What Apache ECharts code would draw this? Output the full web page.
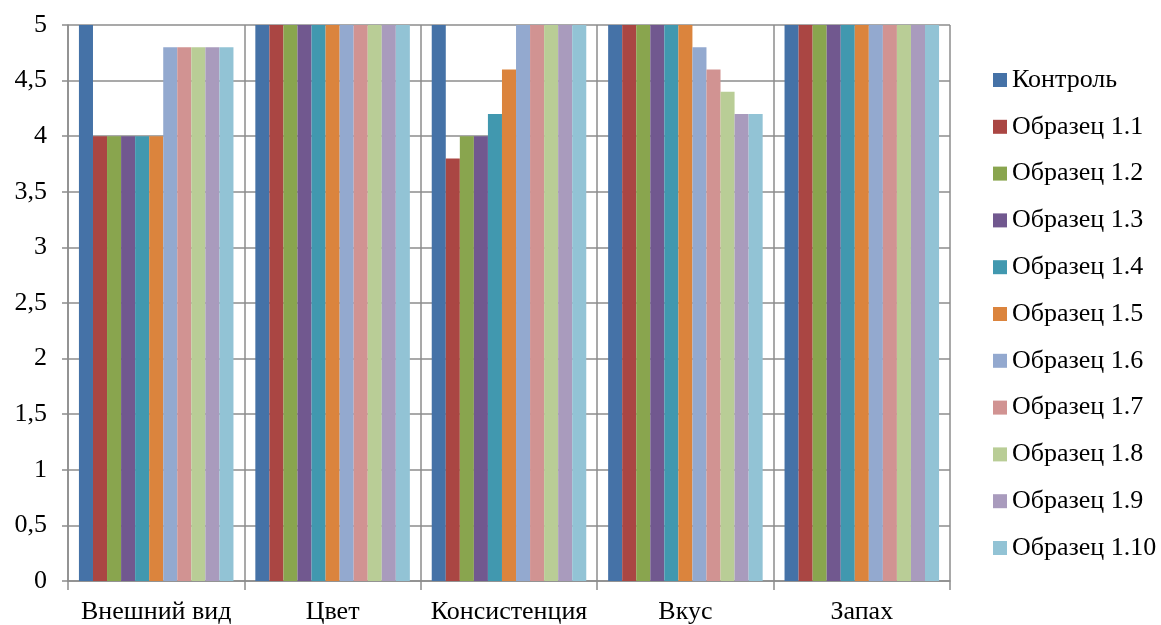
<!DOCTYPE html>
<html><head><meta charset="utf-8">
<script src="https://cdn.jsdelivr.net/npm/echarts@6/dist/echarts.min.js"></script>
<style>html,body{margin:0;padding:0;background:#fff}#c{width:1161px;height:625px}</style>
</head><body><div id="c"></div>
<script>
const categories = ['Внешний вид', 'Цвет', 'Консистенция', 'Вкус', 'Запах'];
const seriesNames = ['Контроль', 'Образец 1.1', 'Образец 1.2', 'Образец 1.3', 'Образец 1.4', 'Образец 1.5', 'Образец 1.6', 'Образец 1.7', 'Образец 1.8', 'Образец 1.9', 'Образец 1.10'];
const control = [5, 5, 5, 5, 5];
const s11 = [4, 5, 3.8, 5, 5];
const s12 = [4, 5, 4, 5, 5];
const s13 = [4, 5, 4, 5, 5];
const s14 = [4, 5, 4.2, 5, 5];
const s15 = [4, 5, 4.6, 5, 5];
const s16 = [4.8, 5, 5, 4.8, 5];
const s17 = [4.8, 5, 5, 4.6, 5];
const s18 = [4.8, 5, 5, 4.4, 5];
const s19 = [4.8, 5, 5, 4.2, 5];
const s110 = [4.8, 5, 5, 4.2, 5];
const allValues = [control, s11, s12, s13, s14, s15, s16, s17, s18, s19, s110];
const colors = ['#4572A7', '#AA4643', '#89A54E', '#71588F', '#4198AF', '#DB843D', '#93A9CF', '#D19392', '#B9CD96', '#A99BBD', '#92C3D5'];

const font = 'Liberation Serif, Times New Roman, serif';
const chart = echarts.init(document.getElementById('c'));
chart.setOption({
  animation: false,
  color: colors,
  grid: { left: 68, right: 211, top: 25, bottom: 44, containLabel: false },
  legend: {
    orient: 'vertical', left: 993, top: 67, itemGap: 20.8,
    itemWidth: 14, itemHeight: 14, icon: 'rect', padding: 0,
    textStyle: { fontFamily: font, fontSize: 26, lineHeight: 26, color: '#000' },
    data: seriesNames
  },
  xAxis: {
    type: 'category', data: categories,
    axisLine: { lineStyle: { color: '#8c8c8c', width: 1.5 } },
    axisTick: { show: true, interval: 0, length: 9, lineStyle: { color: '#8c8c8c', width: 1.5 } },
    splitLine: { show: true, interval: 0, lineStyle: { color: '#8c8c8c', width: 1.5 } },
    axisLabel: { interval: 0, fontFamily: font, fontSize: 26, color: '#000', margin: 18 }
  },
  yAxis: {
    type: 'value', min: 0, max: 5, interval: 0.5,
    axisLine: { show: true, lineStyle: { color: '#8c8c8c', width: 1.5 } },
    axisTick: { show: true, length: 6, lineStyle: { color: '#8c8c8c', width: 1.5 } },
    splitLine: { show: true, lineStyle: { color: '#8c8c8c', width: 1.5 } },
    axisLabel: { fontFamily: font, fontSize: 26, color: '#000', margin: 21,
      formatter: v => String(v).replace('.', ',') }
  },
  series: seriesNames.map((n, i) => ({
    name: n, type: 'bar', data: allValues[i],
    barGap: '0%', barCategoryGap: '12.4%'
  }))
});
</script></body></html>
